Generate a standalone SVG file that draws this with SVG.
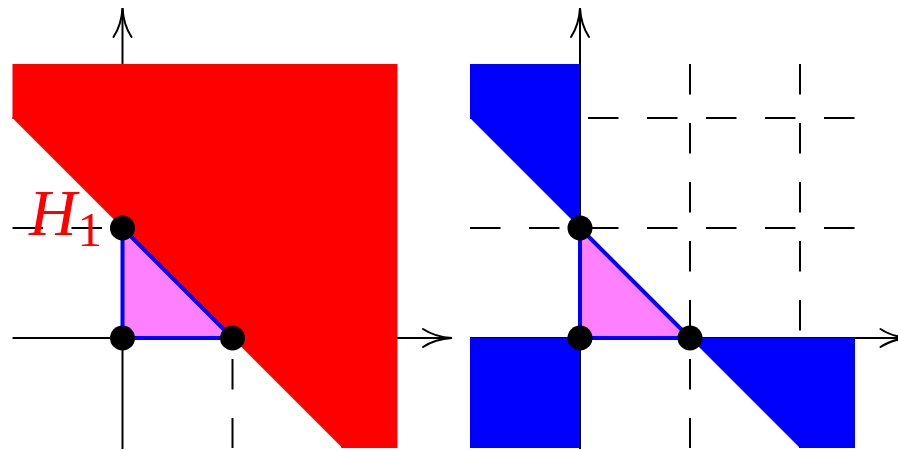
<svg xmlns="http://www.w3.org/2000/svg" width="898" height="451" viewBox="0 0 898 451">
<defs>
<style>
.grid{stroke:#000;stroke-width:2;stroke-dasharray:30.5 28.5;fill:none}
.axis{stroke:#000;stroke-width:2;fill:none;marker-end:url(#arr)}
.tri{fill:#ff80ff;stroke:#0000ff;stroke-width:4;stroke-linejoin:round}
.dot{fill:#000}
</style>
<marker id="arr" markerUnits="userSpaceOnUse" viewBox="-31 -11 33 22" refX="0" refY="0" markerWidth="33" markerHeight="22" orient="auto" overflow="visible">
<path d="M-29,-9 Q-17,-1 0,0 Q-17,1 -29,9" fill="none" stroke="#000" stroke-width="2" stroke-linecap="round"/>
</marker>
</defs>
<rect width="898" height="451" fill="#fff"/>

<g id="left-panel">
<g id="left-grid">
<line class="grid" x1="232.5" y1="64" x2="232.5" y2="448"/>
<line class="grid" x1="342.5" y1="64" x2="342.5" y2="448"/>
<line class="grid" x1="12.5" y1="228" x2="397.5" y2="228"/>
<line class="grid" x1="12.5" y1="118" x2="397.5" y2="118"/>
</g>
<g id="left-connectors">
<line class="axis" x1="122.5" y1="449" x2="122.5" y2="8"/>
<line class="axis" x1="12.5" y1="338" x2="452" y2="338"/>
</g>
<polygon id="left-region" points="12.5,64 397.5,64 397.5,448 342.5,448 12.5,118" fill="#ff0000"/>
<polygon id="left-triangle" class="tri" points="122.5,338 232.5,338 122.5,228"/>
<g id="left-dots">
<circle class="dot" cx="122.5" cy="228" r="12.5"/>
<circle class="dot" cx="122.5" cy="338" r="12.5"/>
<circle class="dot" cx="232.5" cy="338" r="12.5"/>
</g>
<g id="label-H1" fill="#ff0000" font-family="'Liberation Serif', serif">
<text x="29" y="235" font-size="66" font-style="italic">H</text>
<text x="77.5" y="246" font-size="49">1</text>
</g>
</g>

<g id="right-panel">
<g id="right-grid">
<line class="grid" x1="690" y1="64" x2="690" y2="448"/>
<line class="grid" x1="800" y1="64" x2="800" y2="448"/>
<line class="grid" x1="470" y1="228" x2="855" y2="228"/>
<line class="grid" x1="470" y1="118" x2="855" y2="118"/>
</g>
<g id="right-connectors">
<line class="axis" x1="580" y1="449" x2="580" y2="8"/>
<line class="axis" x1="470" y1="338" x2="909.5" y2="338"/>
</g>
<g id="right-regions" fill="#0000ff">
<polygon points="470,64 580,64 580,228 470,118"/>
<polygon points="470,338 580,338 580,448 470,448"/>
<polygon points="690,338 855,338 855,448 800,448"/>
</g>
<polygon id="right-triangle" class="tri" points="580,338 690,338 580,228"/>
<g id="right-dots">
<circle class="dot" cx="580" cy="228" r="12.5"/>
<circle class="dot" cx="580" cy="338" r="12.5"/>
<circle class="dot" cx="690" cy="338" r="12.5"/>
</g>
</g>
</svg>
